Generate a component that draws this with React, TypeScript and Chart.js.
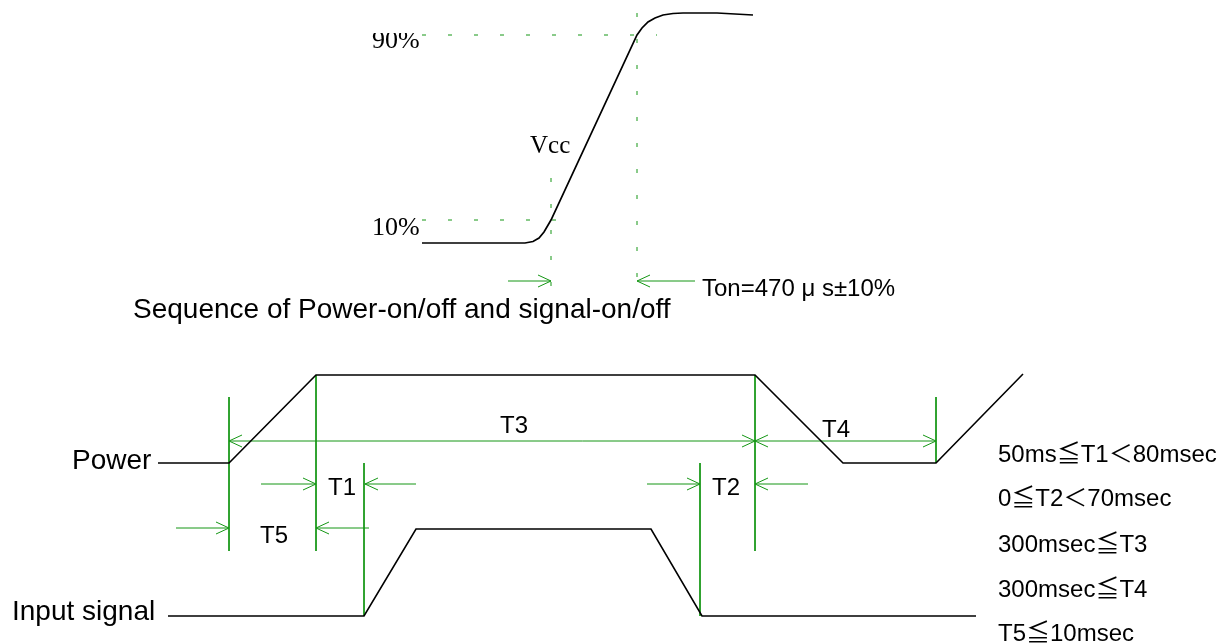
import React, { useEffect, useRef } from "react";
import { Chart, registerables } from "chart.js";

Chart.register(...registerables);

const W = 1227;
const H = 644;

// Top diagram: Vcc rise curve
const vccX = [422, 512, 525, 533, 539, 544, 551, 637, 642, 648, 655, 663, 673, 683, 717, 753];
const vccY = [243, 243, 243, 241.5, 238, 232, 220, 35, 28, 22, 18, 15, 13.5, 13, 13, 15];

// Bottom diagram: Power waveform
const powerX = [158, 229, 316, 755, 843, 936, 1023];
const powerY = [463, 463, 375, 375, 463, 463, 374];

// Bottom diagram: Input signal waveform
const signalX = [168, 364, 416, 651, 702, 976];
const signalY = [616, 616, 529, 529, 616, 616];

// Dotted 10% / 90% guides (top)
const dotHY = [35, 220];
const dotHFrom = [422, 422];
const dotHTo = [657, 578];
const dotVX = [551, 637];
const dotVFrom = [178, 13];
const dotVTo = [288, 297];

// Solid green vertical guides (bottom)
const guideX = [229, 316, 364, 700, 755, 936];
const guideTop = [397, 375, 463, 463, 375, 397];
const guideBottom = [551, 551, 616, 616, 551, 463];

// Horizontal dimension lines
const dimY = [441, 484, 484, 528, 528, 484, 484, 281, 281];
const dimFrom = [229, 261, 365, 176, 316, 647, 755, 508, 637];
const dimTo = [936, 316, 416, 229, 369, 700, 808, 551, 695];

// Arrow heads: tip position and pointing direction (1 = right, -1 = left)
const arrowX = [229, 755, 755, 936, 316, 365, 229, 316, 700, 755, 551, 637];
const arrowY = [441, 441, 441, 441, 484, 484, 528, 528, 484, 484, 281, 281];
const arrowDir = [-1, 1, -1, 1, 1, -1, 1, -1, 1, -1, 1, -1];

// Text labels
const labelText = [
  "90%", "10%", "Vcc",
  "Ton=470 μ s±10%",
  "Sequence of Power-on/off and signal-on/off",
  "Power", "Input signal",
  "T3", "T4", "T1", "T2", "T5",
  "50ms≦T1＜80msec", "0≦T2＜70msec", "300msec≦T3", "300msec≦T4", "T5≦10msec",
];
const labelX = [372, 372, 530, 702, 133, 72, 12, 500, 822, 328, 712, 260, 998, 998, 998, 998, 998];
const labelY = [48, 235, 153, 296, 318, 469, 620, 433, 437, 495, 495, 543, 462, 506, 552, 597, 641];
const labelKind = ["serif", "serif", "serifV", "ton", "big", "big", "big", "t", "t", "t", "t", "t", "r", "r", "r", "r", "r"];

const GREEN = "rgb(20,150,20)";
const SANS = '"Liberation Sans", Arial, "Noto Sans CJK JP", sans-serif';
const SERIF = '"Liberation Serif", "Times New Roman", serif';

function fontFor(kind: string): string {
  switch (kind) {
    case "serif": return `26px ${SERIF}`;
    case "serifV": return `25px ${SERIF}`;
    case "ton": return `24px ${SANS}`;
    case "big": return `28px ${SANS}`;
    case "t": return `24px ${SANS}`;
    default: return `24px ${SANS}`;
  }
}

function lineDs(xs: number[], ys: number[], color: string, width: number, extra: any = {}) {
  return {
    data: xs.map((x, i) => ({ x, y: ys[i] })),
    borderColor: color,
    borderWidth: width,
    pointRadius: 0,
    fill: false,
    tension: 0,
    ...extra,
  };
}

const textPlugin = {
  id: "textLabels",
  afterDatasetsDraw(chart: any) {
    const { ctx } = chart;
    const xs = chart.scales.x;
    const ys = chart.scales.y;
    ctx.save();
    ctx.fillStyle = "#000";
    ctx.textBaseline = "alphabetic";
    ctx.textAlign = "left";
    labelText.forEach((t, i) => {
      const px = xs.getPixelForValue(labelX[i]);
      const py = ys.getPixelForValue(labelY[i]);
      ctx.font = fontFor(labelKind[i]);
      if (t === "90%") {
        ctx.save();
        ctx.beginPath();
        ctx.rect(px - 2, ys.getPixelForValue(33), 80, 40);
        ctx.clip();
        ctx.fillText(t, px, py);
        ctx.restore();
      } else {
        ctx.fillText(t, px, py);
      }
    });
    ctx.restore();
  },
};

export default function App() {
  const ref = useRef<HTMLCanvasElement | null>(null);

  useEffect(() => {
    if (!ref.current) return;
    const datasets: any[] = [];

    datasets.push(lineDs(vccX, vccY, "#000", 1.7));
    datasets.push(lineDs(powerX, powerY, "#000", 1.6));
    datasets.push(lineDs(signalX, signalY, "#000", 1.6));

    dotHY.forEach((y, i) => {
      datasets.push(lineDs([dotHFrom[i], dotHTo[i]], [y, y], GREEN, 1, { borderDash: [4, 22] }));
    });
    dotVX.forEach((x, i) => {
      datasets.push(lineDs([x, x], [dotVFrom[i], dotVTo[i]], GREEN, 1, { borderDash: [4, 22] }));
    });
    guideX.forEach((x, i) => {
      datasets.push(lineDs([x, x], [guideTop[i], guideBottom[i]], GREEN, 1));
    });
    dimY.forEach((y, i) => {
      datasets.push(lineDs([dimFrom[i], dimTo[i]], [y, y], GREEN, 1));
    });
    const AL = 13;
    const AH = 6;
    arrowX.forEach((x, i) => {
      const y = arrowY[i];
      const d = arrowDir[i];
      datasets.push(lineDs([x - d * AL, x, x - d * AL], [y - AH, y, y + AH], GREEN, 1));
    });

    const chart = new Chart(ref.current, {
      type: "line",
      data: { datasets },
      options: {
        animation: false,
        responsive: false,
        devicePixelRatio: 1,
        layout: { padding: 0 },
        events: [],
        plugins: { legend: { display: false }, tooltip: { enabled: false } },
        scales: {
          x: { type: "linear", min: 0, max: W, display: false },
          y: { type: "linear", min: 0, max: H, reverse: true, display: false },
        },
      },
      plugins: [textPlugin],
    } as any);
    return () => chart.destroy();
  }, []);

  return (
    <div style={{ position: "fixed", left: 0, top: 0, width: W, height: H, background: "#fff" }}>
      <canvas ref={ref} width={W} height={H} style={{ width: W, height: H, display: "block" }} />
    </div>
  );
}
